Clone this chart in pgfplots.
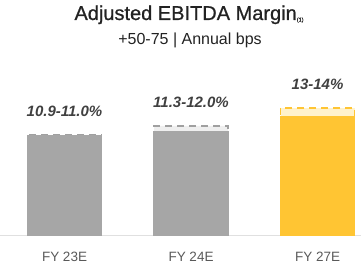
\documentclass[border=0pt]{standalone}
\usepackage{pgfplots}
\pgfplotsset{compat=1.18}
\usepackage{fontspec}
\setmainfont{Liberation Sans}
\newfontfamily\titlefont[FakeBold=0.7]{Liberation Sans}

\definecolor{barGray}{HTML}{A6A6A6}
\definecolor{bandGray}{HTML}{EFEFEF}
\definecolor{dashGray}{HTML}{A0A0A0}
\definecolor{barGold}{HTML}{FFC533}
\definecolor{bandGold}{HTML}{FFF2CC}
\definecolor{labelDark}{HTML}{404040}
\definecolor{tickGray}{HTML}{595959}
\definecolor{titleDark}{HTML}{222222}

\begin{document}
\begin{tikzpicture}
\useasboundingbox (0,0) rectangle (361bp,267bp);
\begin{axis}[
  at={(0bp,31.5bp)}, anchor=south west,
  x=126.5bp, y=9.13bp,
  xmin=-0.51, xmax=2.344, ymin=0, ymax=18,
  ybar, bar width=74bp, bar shift=0pt,
  axis lines*=left,
  y axis line style={draw=none},
  x axis line style={draw=black!12, line width=0.9bp, -},
  ytick=\empty,
  xtick={0,1,2},
  xticklabels={FY 23E, FY 24E, FY 27E},
  major tick length=0pt,
  xticklabel style={font=\fontsize{13.5bp}{16bp}\selectfont, text=tickGray,
                    anchor=base, yshift=-25.5bp},
  clip=false,
  nodes near coords,
  point meta=explicit symbolic,
  every node near coord/.append style={anchor=base, yshift=18.5bp,
      font=\fontsize{15bp}{17bp}\selectfont\bfseries\itshape, text=labelDark},
]
% upper end of each range: light band with a dashed top edge
\addplot[fill=bandGray, draw=dashGray, line width=1.8bp, dash pattern=on 7bp off 5bp]
  coordinates {(0,11.0) [10.9-11.0\%] (1,12.0) [11.3-12.0\%]};
\addplot[fill=bandGold, draw=barGold, line width=1.8bp, dash pattern=on 7bp off 5bp]
  coordinates {(2,14) [13-14\%]};
% lower end of each range: solid bar
\addplot[fill=barGray, draw=barGray, line width=1.8bp, nodes near coords={}]
  coordinates {(0,10.9) [] (1,11.3) []};
\addplot[fill=barGold, draw=barGold, line width=1.8bp, nodes near coords={}]
  coordinates {(2,13) []};
\end{axis}
\node[anchor=base, text=titleDark, font=\titlefont\fontsize{20bp}{23bp}\selectfont, inner sep=0pt]
  at (189bp,247bp) {Adjusted EBITDA Margin\raisebox{-1.5bp}{\fontsize{5.5bp}{6bp}\selectfont(1)}};
\node[anchor=base, text=titleDark, font=\fontsize{16bp}{19bp}\selectfont, inner sep=0pt]
  at (190bp,222bp) {+50-75 | Annual bps};
\end{tikzpicture}
\end{document}
